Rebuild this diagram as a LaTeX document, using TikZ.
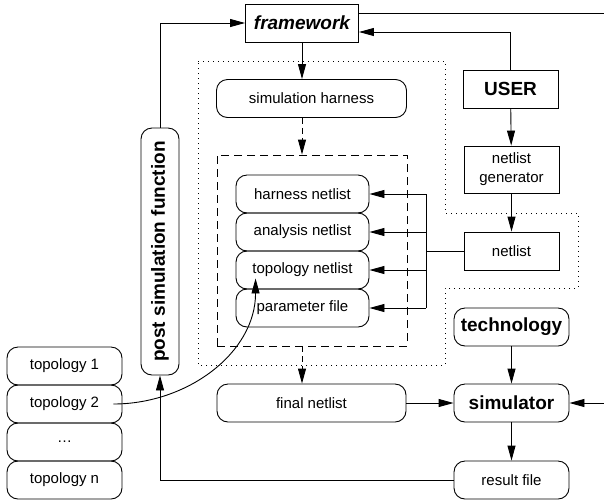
\documentclass[tikz,border=0pt]{standalone}
\usepackage{fontspec}
\setmainfont{Liberation Sans}
\usepackage{graphicx}
\usetikzlibrary{arrows.meta}
\begin{document}
\begin{tikzpicture}
  [x=1pt,y=-1pt,line width=0.9pt,>={Triangle[length=15pt,width=8pt]},
   every node/.style={draw,inner sep=0pt,align=center,font=\fontsize{15}{19}\selectfont},
   box/.style={minimum width=95pt,minimum height=38pt},
   rbox/.style={rounded corners=11pt,minimum width=115pt,minimum height=38pt},
   big/.style={font=\fontsize{19}{21}\selectfont\bfseries}]
  \useasboundingbox (0,0) rectangle (604,499);

  \node[box,minimum width=113pt,font=\fontsize{19}{21}\selectfont\bfseries\itshape] (framework) at (302,23) {framework};
  \node[box,big] (user) at (510.5,89) {USER};
  \node[rbox,minimum width=190pt] (sim) at (311.5,98.5) {simulation harness};
  \node[box,minimum height=47pt] (netgen) at (511.5,169.5) {netlist\\generator};
  \node[box] (netlist) at (511.5,251) {netlist};

  \node[dash pattern=on 8pt off 5pt,minimum width=190pt,minimum height=191pt] (harnessbox) at (312,250.5) {};
  \node[rbox,minimum width=133pt] (harnessnet) at (302.5,194) {harness netlist};
  \node[rbox,minimum width=133pt] (analysisnet) at (302.5,232) {analysis netlist};
  \node[rbox,minimum width=133pt] (topologynet) at (302.5,270) {topology netlist};
  \node[rbox,minimum width=133pt] (paramfile) at (302.5,308) {parameter file};

  \node[rbox,big] (technology) at (511.5,327) {technology};
  \node[rbox,big] (simulator) at (511.5,403) {simulator};
  \node[rbox] (resultfile) at (511.5,480) {result file};
  \node[rbox,minimum width=189pt] (finalnet) at (311.5,403) {final netlist};
  \node[rounded corners=11pt,minimum width=38pt,minimum height=247pt,big] (postsim) at (160,251.5) {\rotatebox{90}{post simulation function}};

  \node[rbox] (topo1) at (64.5,366) {topology 1};
  \node[rbox] (topo2) at (64.5,404) {topology 2};
  \node[rbox] (topo3) at (64.5,442) {\ldots};
  \node[rbox] (topo4) at (64.5,480) {topology n};

  \coordinate (bus) at (426,251);
  \coordinate (outtop) at (604,13);
  \coordinate (outsim) at (604,403);

  % dotted area round the harness
  \draw[dash pattern=on 1pt off 4pt] (198,61) -- (445,61) -- (445,213) -- (578,213) -- (578,288)
    -- (445,288) -- (445,365) -- (198,365) -- cycle;

 \path[->]
        (framework) edge (framework |- sim.north)
        (user) edge (netgen)
        (netgen) edge (netlist)
        (technology) edge (simulator)
        (finalnet) edge (simulator)
        (outsim) edge (simulator)
        (simulator) edge (resultfile)
        (bus |- harnessnet) edge (harnessnet)
        (bus |- analysisnet) edge (analysisnet)
        (bus |- topologynet) edge (topologynet)
        (bus |- paramfile) edge (paramfile);
 \path[->, dash pattern=on 6pt off 4pt]
        (framework |- sim.south) edge (framework |- harnessbox.north)
        (framework |- harnessbox.south) edge (framework |- finalnet.north);

  \draw (netlist) -- (bus);
  \draw (bus |- harnessnet) -- (bus |- paramfile);
  \draw ([yshift=10pt]framework.east) -- (outtop);
  \draw[->] (user) |- ([yshift=-9pt]framework.east);
  \draw[->] (postsim) |- (framework);
  \draw[->] (resultfile) -| (postsim);
  \draw[->] ([xshift=-9pt]topo2.east) to[out=0,in=-90] ([xshift=20pt,yshift=11pt]topologynet.south west);

\end{tikzpicture}
\end{document}
